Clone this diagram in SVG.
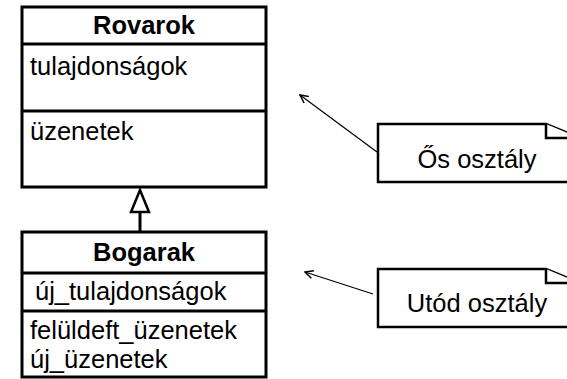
<svg xmlns="http://www.w3.org/2000/svg" width="567" height="379" viewBox="0 0 567 379">
<style>
.box{fill:#fff;stroke:#000;stroke-width:3}
.div{stroke:#000;stroke-width:3}
.t{font-family:"Liberation Sans",Arial,sans-serif;font-size:25.5px;fill:#000}
.b{font-weight:bold;text-anchor:middle}
.note{fill:#fff;stroke:#000;stroke-width:2.5}
.conn{stroke:#000;stroke-width:1.2;fill:none}
</style>
<defs>
<marker id="open" markerWidth="10" markerHeight="10" refX="9" refY="5" orient="auto" markerUnits="userSpaceOnUse">
<path d="M1,1 L9,5 L1,9" fill="none" stroke="#000" stroke-width="1.5"/>
</marker>
</defs>
<rect width="567" height="379" fill="#fff"/>
<g id="rovarok">
<rect class="box" x="22" y="7" width="244" height="180"/>
<line class="div" x1="22" y1="44" x2="266" y2="44"/>
<line class="div" x1="22" y1="111" x2="266" y2="111"/>
<text class="t b" x="144" y="34">Rovarok</text>
<text class="t" x="30" y="75">tulajdonságok</text>
<text class="t" x="30" y="140">üzenetek</text>
</g>
<g id="bogarak">
<rect class="box" x="22" y="232" width="244" height="145"/>
<line class="div" x1="22" y1="273" x2="266" y2="273"/>
<line class="div" x1="22" y1="311" x2="266" y2="311"/>
<text class="t b" x="144" y="261">Bogarak</text>
<text class="t" x="35" y="300">új_tulajdonságok</text>
<text class="t" x="30" y="339">felüldeft_üzenetek</text>
<text class="t" x="30" y="368">új_üzenetek</text>
</g>
<g id="note-os">
<path class="note" d="M378,124 L546,124 L580,138 L580,182 L378,182 Z"/>
<path class="note" d="M546,124 L546,138 L580,138"/>
<text class="t" x="477" y="168" text-anchor="middle">Ős osztály</text>
</g>
<g id="note-utod">
<path class="note" d="M378,269 L546,269 L580,283 L580,327 L378,327 Z"/>
<path class="note" d="M546,269 L546,283 L580,283"/>
<text class="t" x="477" y="312" text-anchor="middle">Utód osztály</text>
</g>
<g id="connectors">
<line class="div" x1="140" y1="213" x2="140" y2="232"/>
<path d="M140,190 L149,212 L131,212 Z" fill="#fff" stroke="#000" stroke-width="2.5" stroke-linejoin="miter"/>
<line class="conn" x1="377" y1="152" x2="300" y2="95" marker-end="url(#open)"/>
<line class="conn" x1="373" y1="294" x2="305" y2="272" marker-end="url(#open)"/>
</g>
</svg>
